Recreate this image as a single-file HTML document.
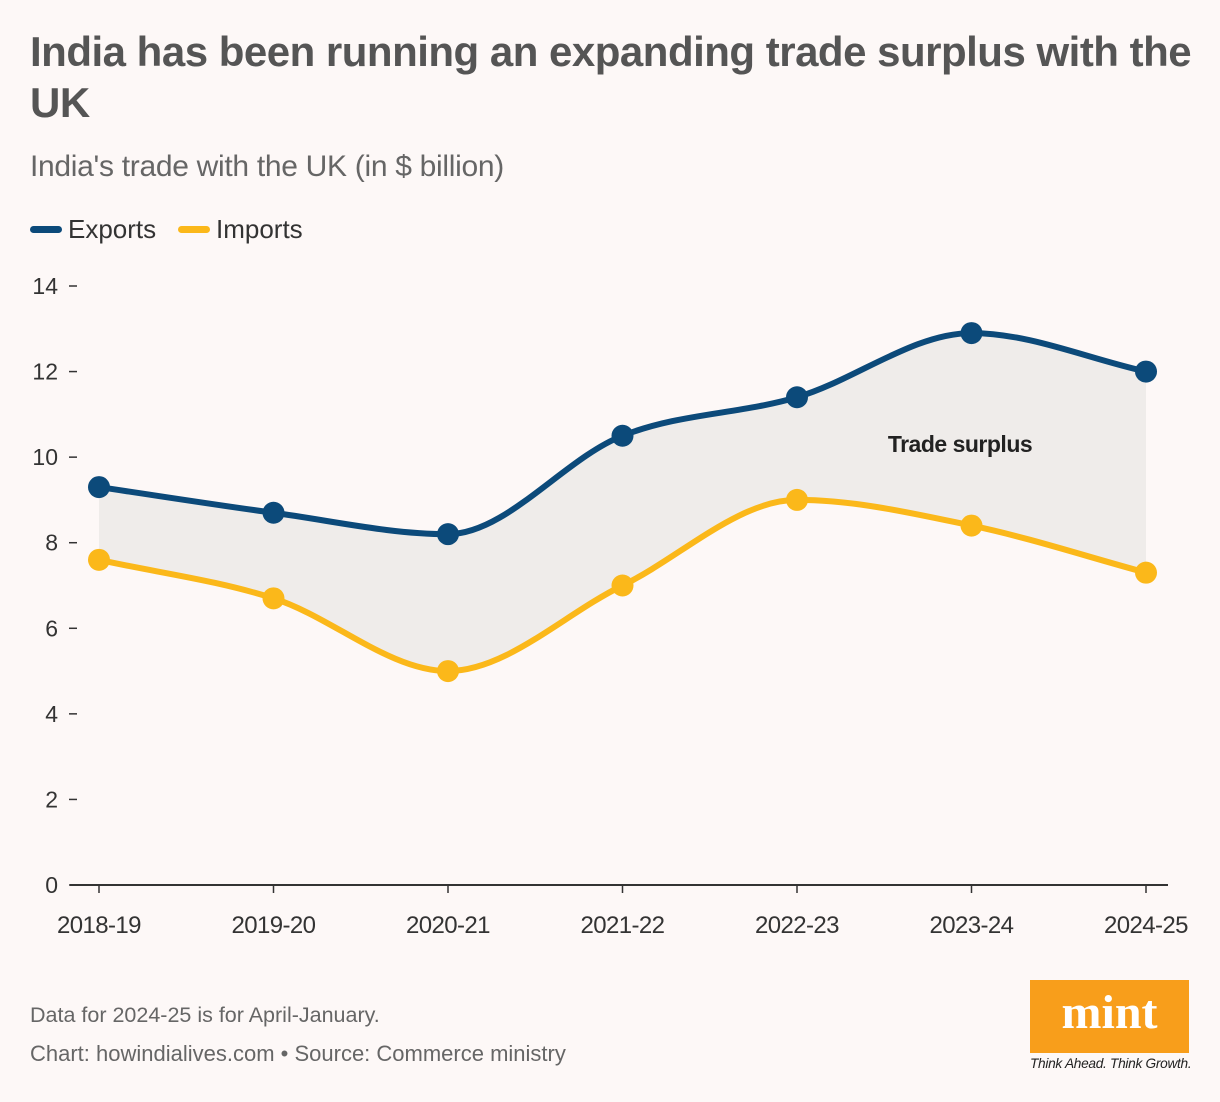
<!DOCTYPE html>
<html><head><meta charset="utf-8"><style>
body{margin:0;background:#fdf8f7;font-family:"Liberation Sans",sans-serif;}
#wrap{position:relative;width:1220px;height:1102px;overflow:hidden;background:#fdf8f7}
h1{position:absolute;left:30px;top:26px;margin:0;font-size:42px;line-height:51px;font-weight:bold;color:#555;width:1165px;letter-spacing:-0.5px}
.sub{position:absolute;left:30px;top:150px;font-size:30px;color:#666;letter-spacing:-0.3px}
.leg{position:absolute;top:214px;font-size:26px;color:#333;display:flex;align-items:center}
.leg i{display:inline-block;width:32px;height:7px;border-radius:4px;margin-right:6px}
.note{position:absolute;left:30px;font-size:21.5px;color:#666}
</style></head><body>
<div id="wrap">
<h1>India has been running an expanding trade surplus with the UK</h1>
<div class="sub">India's trade with the UK (in $ billion)</div>
<div class="leg" style="left:30px"><i style="background:#0c4a7a"></i>Exports</div>
<div class="leg" style="left:178px"><i style="background:#fbb81a"></i>Imports</div>
<svg id="chart" width="1220" height="1102" style="position:absolute;left:0;top:0"></svg>
<div class="note" style="top:1003px">Data for 2024-25 is for April-January.</div>
<div class="note" style="top:1041px;font-size:22px">Chart: howindialives.com • Source: Commerce ministry</div>
<div style="position:absolute;left:1030px;top:980px;width:159px;height:73px;background:#f89e1b;color:#fff;font-family:'Liberation Serif',serif;font-weight:bold;font-size:48px;text-align:center;line-height:66px">mint</div>
<div style="position:absolute;left:1030px;top:1056px;font-size:13.7px;font-style:italic;color:#222;letter-spacing:-0.3px">Think Ahead. Think Growth.</div>
</div>
<script>
const categories=["2018-19","2019-20","2020-21","2021-22","2022-23","2023-24","2024-25"];
const exportsVals=[9.3,8.7,8.2,10.5,11.4,12.9,12.0];
const importsVals=[7.6,6.7,5.0,7.0,9.0,8.4,7.3];
const yTicks=[0,2,4,6,8,10,12,14];
const NS="http://www.w3.org/2000/svg";
const svg=document.getElementById('chart');
const x=i=>99+i*(1146-99)/(categories.length-1);
const y=v=>885-v*(885-286)/14;
function el(t,a,p){const e=document.createElementNS(NS,t);for(const k in a)e.setAttribute(k,a[k]);(p||svg).appendChild(e);return e;}
function mono(pts){const n=pts.length,d=[],m=[];for(let i=0;i<n-1;i++)d.push((pts[i+1][1]-pts[i][1])/(pts[i+1][0]-pts[i][0]));
m[0]=d[0];m[n-1]=d[n-2];for(let i=1;i<n-1;i++){m[i]=d[i-1]*d[i]<=0?0:(d[i-1]+d[i])/2;}
for(let i=0;i<n-1;i++){if(d[i]===0){m[i]=m[i+1]=0;continue;}const a=m[i]/d[i],b=m[i+1]/d[i],s=a*a+b*b;if(s>9){const t=3/Math.sqrt(s);m[i]=t*a*d[i];m[i+1]=t*b*d[i];}}
let p="";for(let i=0;i<n-1;i++){const h=(pts[i+1][0]-pts[i][0])/3;p+=`C${pts[i][0]+h},${pts[i][1]+m[i]*h} ${pts[i+1][0]-h},${pts[i+1][1]-m[i+1]*h} ${pts[i+1][0]},${pts[i+1][1]}`;}return p;}
const ep=exportsVals.map((v,i)=>[x(i),y(v)]),ip=importsVals.map((v,i)=>[x(i),y(v)]);
const ipr=ip.slice().reverse();
let area=el('path',{d:`M${ep[0][0]},${ep[0][1]}`+mono(ep)+`L${ipr[0][0]},${ipr[0][1]}`+mono(ipr)+'Z',fill:'#efecea'});


yTicks.forEach(t=>{
 const l=el('line',{x1:69,x2:77,y1:y(t),y2:y(t),stroke:'#333','stroke-width':1.5});
 
 
 const tx=el('text',{x:58,y:y(t)+8,'text-anchor':'end','font-size':23,fill:'#333'});tx.textContent=t;
 
 
});
const ax=el('line',{x1:70,x2:1168,y1:885,y2:885,stroke:'#333','stroke-width':2});


categories.forEach((c,i)=>{
 const l=el('line',{x1:x(i),x2:x(i),y1:885,y2:893,stroke:'#333','stroke-width':1.5});
 
 
 const tx=el('text',{x:x(i),y:933,'text-anchor':'middle','font-size':24,fill:'#333','letter-spacing':-0.6});tx.textContent=c;
 
 
});
[[ep,'#0c4a7a','exports'],[ip,'#fbb81a','imports']].forEach(([pts,col,nm])=>{
 const p=el('path',{d:`M${pts[0][0]},${pts[0][1]}`+mono(pts),fill:'none',stroke:col,'stroke-width':6});
 
 
 pts.forEach(q=>{const c=el('circle',{cx:q[0],cy:q[1],r:11,fill:col});
  
  });
});
const lb=el('text',{x:960,y:452,'text-anchor':'middle','font-size':23,'font-weight':'bold',fill:'#222','letter-spacing':-0.5});lb.textContent='Trade surplus';


</script>
</body></html>
